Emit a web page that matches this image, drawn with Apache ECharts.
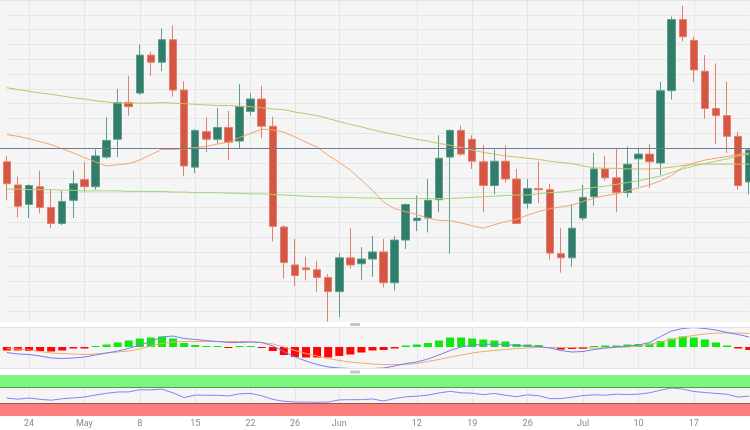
<!DOCTYPE html>
<html>
<head>
<meta charset="utf-8">
<script src="https://cdn.jsdelivr.net/npm/echarts@6/dist/echarts.min.js"></script>
<style>
  html, body { margin: 0; padding: 0; background: #fff; }
  #chart { width: 750px; height: 430px; }
</style>
</head>
<body>
<div id="chart"></div>
<script>
// trading days, 20 Apr -> 24 Jul
const dates = [
  '04-20','04-21','04-24','04-25','04-26','04-27','04-28',
  '05-01','05-02','05-03','05-04','05-05','05-08','05-09','05-10','05-11','05-12',
  '05-15','05-16','05-17','05-18','05-19','05-22','05-23','05-24','05-25','05-26',
  '05-29','05-30','05-31','06-01','06-02','06-05','06-06','06-07','06-08','06-09',
  '06-12','06-13','06-14','06-15','06-16','06-19','06-20','06-21','06-22','06-23',
  '06-26','06-27','06-28','06-29','06-30','07-03','07-04','07-05','07-06','07-07',
  '07-10','07-11','07-12','07-13','07-14','07-17','07-18','07-19','07-20','07-21','07-24'
];
const tickDates  = ['04-24','05-01','05-08','05-15','05-22','05-26','06-01','06-12','06-19','06-26','07-03','07-10','07-17'];
const tickLabels = ['24','May','8','15','22','26','Jun','12','19','26','Jul','10','17'];

const opens = [139.77,139.38,139.05,139.35,139.00,138.73,139.12,139.47,139.35,139.85,140.15,140.77,140.93,141.57,141.45,141.83,140.98,
  139.68,140.28,140.15,140.35,140.12,140.62,140.83,140.37,138.67,138.03,137.98,137.95,137.82,137.58,138.15,138.05,138.13,138.25,137.73,
  138.45,138.78,138.82,139.13,139.85,140.30,140.15,139.77,139.37,139.78,139.48,139.07,139.32,139.30,138.22,138.15,138.82,139.18,139.65,
  139.50,139.25,139.82,139.90,139.75,140.97,142.17,141.82,141.30,140.67,140.55,140.20,139.43];
const closes = [139.40,139.02,139.37,139.00,138.73,139.10,139.40,139.35,139.87,140.13,140.77,140.70,141.57,141.45,141.83,140.98,139.70,
  140.30,140.15,140.35,140.10,140.70,140.83,140.37,138.68,138.07,137.85,137.95,137.82,137.58,138.15,138.03,138.13,138.25,137.73,138.45,
  139.05,138.82,139.12,139.83,140.30,139.90,139.78,139.37,139.78,139.48,138.73,139.32,139.30,138.23,138.15,138.65,139.17,139.65,139.50,
  139.25,139.73,139.90,139.77,140.97,142.17,141.88,141.32,140.67,140.55,140.20,139.37,139.97];
const lows = [139.12,138.83,138.82,138.90,138.65,138.70,138.82,139.25,139.30,139.82,139.85,140.55,140.90,141.22,141.30,140.87,139.53,
  139.58,139.93,140.08,139.80,140.00,140.55,140.17,138.43,137.80,137.67,137.77,137.58,137.07,137.15,137.97,137.78,137.83,137.65,137.60,
  138.30,138.60,138.58,138.92,138.22,139.87,139.65,138.92,139.22,139.42,138.72,138.98,139.07,138.12,137.90,138.00,138.78,139.03,139.45,
  138.92,139.17,139.35,139.33,139.55,140.82,141.80,141.12,140.50,140.07,139.92,139.30,139.22];
const highs = [139.87,139.52,139.39,139.62,139.30,139.28,139.62,139.77,139.98,140.52,141.00,141.22,141.75,141.63,142.02,142.07,141.13,
  140.32,140.52,140.68,140.63,141.08,140.93,141.05,140.53,138.70,138.47,138.17,138.10,137.88,138.23,138.65,138.33,138.52,138.47,138.52,
  139.07,139.20,139.48,140.22,140.32,140.38,140.22,140.05,139.98,140.05,139.65,139.48,139.78,139.40,138.65,139.05,139.38,139.92,139.87,
  140.00,140.03,140.00,140.07,141.12,142.22,142.40,141.88,141.57,141.43,141.12,140.28,139.98];

// moving averages
const sma20 = [140.23,140.20,140.16,140.11,140.06,139.99,139.92,139.84,139.77,139.70,139.72,139.74,139.80,139.89,139.98,139.98,139.99,
  140.01,140.03,140.07,140.10,140.18,140.25,140.32,140.31,140.27,140.19,140.10,140.02,139.88,139.76,139.63,139.46,139.29,139.09,138.98,
  138.93,138.88,138.82,138.78,138.78,138.74,138.69,138.65,138.71,138.76,138.80,138.87,138.93,138.98,139.01,139.04,139.10,139.16,139.20,
  139.23,139.28,139.33,139.38,139.45,139.54,139.68,139.75,139.80,139.83,139.86,139.89,139.92];
const sma100 = [141.02,140.99,140.96,140.93,140.91,140.88,140.85,140.83,140.80,140.78,140.76,140.76,140.76,140.76,140.77,140.76,140.75,
  140.74,140.73,140.72,140.72,140.71,140.70,140.68,140.66,140.65,140.61,140.58,140.55,140.50,140.45,140.40,140.36,140.31,140.27,140.23,
  140.19,140.15,140.12,140.08,140.05,140.01,139.97,139.93,139.90,139.87,139.85,139.83,139.81,139.78,139.76,139.74,139.70,139.67,139.66,
  139.66,139.65,139.65,139.65,139.66,139.68,139.71,139.73,139.73,139.73,139.73,139.73,139.73];
const sma200 = [139.31,139.31,139.30,139.30,139.30,139.29,139.29,139.28,139.28,139.28,139.28,139.27,139.27,139.27,139.27,139.26,139.26,
  139.25,139.25,139.25,139.24,139.24,139.23,139.23,139.22,139.21,139.20,139.19,139.18,139.18,139.17,139.17,139.16,139.16,139.15,139.15,
  139.15,139.15,139.15,139.15,139.15,139.16,139.17,139.18,139.19,139.20,139.21,139.21,139.23,139.25,139.26,139.28,139.31,139.34,139.36,
  139.39,139.42,139.45,139.49,139.53,139.59,139.65,139.70,139.74,139.78,139.82,139.87,139.90];
const levelLine = 140.00;

// MACD panel
const macdLine = [-0.11,-0.14,-0.15,-0.18,-0.22,-0.23,-0.22,-0.20,-0.16,-0.12,-0.08,-0.03,0.04,0.11,0.20,0.22,0.17,
  0.15,0.13,0.11,0.09,0.09,0.10,0.09,0.02,-0.09,-0.20,-0.28,-0.35,-0.40,-0.42,-0.43,-0.43,-0.43,-0.42,-0.38,
  -0.33,-0.30,-0.24,-0.16,-0.07,0.00,0.04,0.05,0.06,0.05,0.03,0.02,0.01,-0.02,-0.07,-0.10,-0.09,-0.05,-0.02,
  0.00,0.02,0.04,0.09,0.21,0.32,0.37,0.39,0.37,0.34,0.29,0.25,0.20];
const signalLine = [-0.03,-0.04,-0.06,-0.09,-0.12,-0.13,-0.14,-0.15,-0.14,-0.12,-0.10,-0.08,-0.04,0.02,0.07,0.10,0.11,
  0.11,0.11,0.11,0.11,0.11,0.11,0.09,0.06,0.00,-0.07,-0.13,-0.18,-0.23,-0.27,-0.30,-0.32,-0.34,-0.35,-0.35,
  -0.35,-0.33,-0.29,-0.25,-0.20,-0.16,-0.12,-0.09,-0.07,-0.05,-0.03,-0.02,-0.01,-0.01,-0.01,-0.01,-0.02,-0.02,-0.02,
  -0.01,0.00,0.02,0.05,0.10,0.15,0.20,0.23,0.26,0.28,0.28,0.28,0.27];
const histogram = [-0.07,-0.07,-0.08,-0.08,-0.09,-0.07,-0.03,-0.03,0.01,0.05,0.09,0.13,0.17,0.19,0.21,0.17,0.08,
  0.04,0.01,0.01,-0.02,0.01,0.01,-0.01,-0.08,-0.16,-0.20,-0.21,-0.21,-0.21,-0.18,-0.15,-0.11,-0.07,-0.06,-0.03,
  0.03,0.05,0.08,0.13,0.19,0.19,0.17,0.15,0.13,0.11,0.06,0.05,0.04,-0.02,-0.05,-0.04,-0.04,0.01,0.03,
  0.03,0.05,0.06,0.07,0.12,0.17,0.21,0.19,0.15,0.09,0.03,-0.03,-0.06];

// RSI panel
const rsi = [43.7,41.0,43.9,40.7,38.5,42.0,44.1,46.1,51.2,55.4,58.5,58.8,64.1,63.7,65.6,56.3,45.1,
  51.0,50.5,50.5,49.0,54.1,55.1,49.5,40.5,35.9,34.1,33.9,33.4,34.1,39.3,39.8,40.0,41.5,36.6,42.7,
  46.8,48.3,51.0,56.1,60.2,56.6,55.6,52.0,55.1,50.7,47.1,51.7,49.5,42.4,42.4,45.9,49.8,51.7,50.7,
  53.2,52.4,53.2,56.6,62.9,68.5,65.6,59.8,57.3,55.1,52.9,46.3,48.5];
const rsiUpper = 70;
const rsiLower = 30;

const chart = echarts.init(document.getElementById('chart'));

const candles = dates.map((d, i) => [opens[i], closes[i], lows[i], highs[i]]);
const isTick = (i, v) => tickDates.indexOf(v) >= 0;

function xAxisFor(gridIndex, showLabels) {
  return {
    type: 'category',
    gridIndex: gridIndex,
    data: dates,
    boundaryGap: false,
    axisLine: { show: false },
    axisTick: { show: false },
    splitLine: { show: true, interval: isTick, lineStyle: { color: '#e6e6e6', width: 1 } },
    axisLabel: {
      show: showLabels,
      interval: isTick,
      formatter: v => tickLabels[tickDates.indexOf(v)],
      color: '#8a8a8a',
      fontSize: 9,
      fontFamily: 'Roboto',
      margin: 3
    }
  };
}

// full-width hidden axes, for the level line and the RSI bands
function plainX(gridIndex) {
  return { type: 'value', gridIndex: gridIndex, min: 0, max: 1, show: false };
}
function plainY(gridIndex, min, max) {
  return { type: 'value', gridIndex: gridIndex, min: min, max: max, show: false, splitLine: { show: false } };
}

const option = {
  backgroundColor: '#f5f5f5',
  animation: false,
  grid: [
    { left: 6.84, right: 0.76, top: -4, height: 330 },
    { left: 6.84, right: 0.76, top: 327, height: 42 },
    { left: 6.84, right: 0.76, top: 375, height: 41 },
    { left: 0, right: 0, top: -4, height: 330 },
    { left: 0, right: 0, top: 375, height: 41 }
  ],
  xAxis: [xAxisFor(0, false), xAxisFor(1, false), xAxisFor(2, true), plainX(3), plainX(4)],
  yAxis: [
    {
      gridIndex: 0, type: 'value', min: 137, max: 142.5, interval: 0.25,
      axisLabel: { show: false }, axisLine: { show: false }, axisTick: { show: false },
      splitLine: { lineStyle: { color: '#e6e6e6' } }
    },
    {
      gridIndex: 1, type: 'value', min: -0.44, max: 0.40,
      axisLabel: { show: false }, axisLine: { show: false }, axisTick: { show: false },
      splitLine: { show: false }
    },
    {
      gridIndex: 2, type: 'value', min: 0, max: 100,
      axisLabel: { show: false }, axisLine: { show: false }, axisTick: { show: false },
      splitLine: { show: false }
    },
    plainY(3, 137, 142.5),
    plainY(4, 0, 100)
  ],
  graphic: [
    // white strips between panels, and the label area
    { type: 'rect', shape: { x: 0, y: 322, width: 750, height: 5 }, style: { fill: '#ffffff' }, z: 100 },
    { type: 'rect', shape: { x: 0, y: 369, width: 750, height: 6 }, style: { fill: '#ffffff' }, z: 100 },
    { type: 'rect', shape: { x: 0, y: 416.5, width: 750, height: 14 }, style: { fill: '#ffffff' }, z: -1 },
    { type: 'line', shape: { x1: 0, y1: 0.5, x2: 750, y2: 0.5 }, style: { stroke: '#e2e4ee', lineWidth: 1 }, z: 100 },
    { type: 'line', shape: { x1: 0, y1: 327.5, x2: 750, y2: 327.5 }, style: { stroke: '#dfe1ee', lineWidth: 1 }, z: 100 },
    { type: 'line', shape: { x1: 0, y1: 368.5, x2: 750, y2: 368.5 }, style: { stroke: '#dfe1ee', lineWidth: 1 }, z: 100 },
    // drag handles
    { type: 'rect', shape: { x: 350, y: 323, width: 10, height: 3, r: 1 }, style: { fill: '#c4c4c4' }, z: 101 },
    { type: 'rect', shape: { x: 350, y: 370.5, width: 10, height: 3, r: 1 }, style: { fill: '#c4c4c4' }, z: 101 }
  ],
  series: [
    {
      type: 'line',
      xAxisIndex: 3, yAxisIndex: 3,
      data: [],
      z: 3,
      markLine: {
        silent: true,
        symbol: 'none',
        label: { show: false },
        lineStyle: { color: '#6a7b9c', width: 1, type: 'solid' },
        data: [{ yAxis: levelLine }]
      }
    },
    {
      type: 'line',
      xAxisIndex: 4, yAxisIndex: 4,
      data: [],
      z: -1,
      markArea: {
        silent: true,
        data: [
          [{ yAxis: rsiUpper, itemStyle: { color: '#7bf57b' } }, { yAxis: 100 }],
          [{ yAxis: 0, itemStyle: { color: '#fb7d7d' } }, { yAxis: rsiLower }]
        ]
      },
      markLine: {
        silent: true,
        symbol: 'none',
        label: { show: false },
        data: [
          { yAxis: rsiUpper, lineStyle: { color: '#4f9f4f', width: 1, type: 'solid' } },
          { yAxis: rsiLower, lineStyle: { color: '#a85050', width: 1, type: 'solid' } }
        ]
      }
    },
    {
      type: 'candlestick',
      xAxisIndex: 0, yAxisIndex: 0,
      data: candles,
      barWidth: 8,
      clip: false,
      itemStyle: {
        color: '#317d6b',
        color0: '#d65644',
        borderColor: '#5f9d8d',
        borderColor0: '#e2806f',
        borderWidth: 1
      }
    },
    { type: 'line', xAxisIndex: 0, yAxisIndex: 0, data: sma100, symbol: 'none', lineStyle: { color: '#c8bf6c', width: 1 } },
    { type: 'line', xAxisIndex: 0, yAxisIndex: 0, data: sma200, symbol: 'none', lineStyle: { color: '#9fd676', width: 1 } },
    { type: 'line', xAxisIndex: 0, yAxisIndex: 0, data: sma20, symbol: 'none', lineStyle: { color: '#f3a36e', width: 1 } },
    {
      type: 'bar',
      xAxisIndex: 1, yAxisIndex: 1,
      data: histogram.map(v => ({ value: v, itemStyle: { color: v >= 0 ? '#11e811' : '#ff0505' } })),
      barWidth: 8,
      barMinHeight: 1,
      clip: false
    },
    { type: 'line', xAxisIndex: 1, yAxisIndex: 1, data: signalLine, symbol: 'none', lineStyle: { color: '#f5a772', width: 1 } },
    { type: 'line', xAxisIndex: 1, yAxisIndex: 1, data: macdLine, symbol: 'none', lineStyle: { color: '#6f80f2', width: 1 } },
    { type: 'line', xAxisIndex: 2, yAxisIndex: 2, data: rsi, symbol: 'none', lineStyle: { color: '#7b88ef', width: 1 } }
  ]
};

chart.setOption(option);
</script>
</body>
</html>
